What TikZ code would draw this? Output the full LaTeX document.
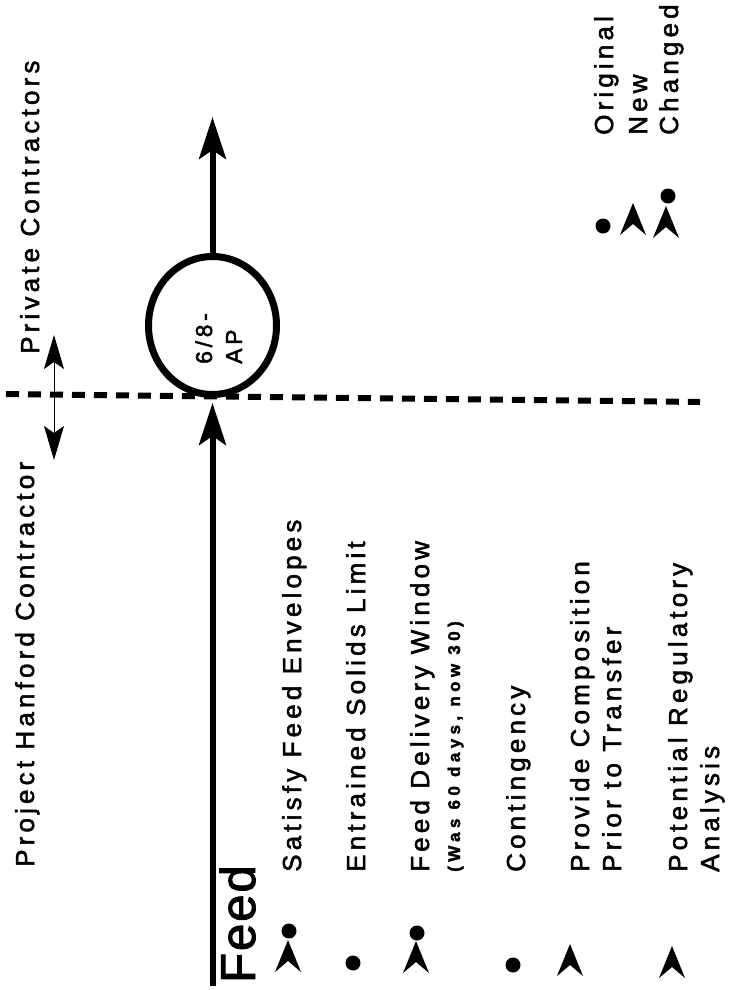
\documentclass[tikz,border=0pt]{standalone}
\usepackage{fontspec}
\setmainfont{Liberation Sans}[LetterSpace=16,FakeBold=2]
\usetikzlibrary{arrows.meta,shapes.geometric}

\begin{document}
\begin{tikzpicture}[x=1pt,y=-1pt,
    item/.style={rotate=90, anchor=base west, inner sep=0pt, font=\fontsize{26}{30}\selectfont},
    note/.style={rotate=90, anchor=base west, inner sep=0pt, font=\fontsize{17}{20}\selectfont\bfseries\addfontfeatures{LetterSpace=26}},
    aplabel/.style={rotate=90, anchor=base west, inner sep=0pt, font=\fontsize{23}{27}\selectfont},
    flow/.style={line width=6pt, -{Stealth[length=42pt,width=27pt,inset=9pt]}},
    split/.style={line width=1pt, {Stealth[length=34pt,width=20pt,inset=7pt]}-{Stealth[length=34pt,width=20pt,inset=7pt]}},
    boundary/.style={line width=6pt, dash pattern=on 13pt off 9pt},
    newmark/.pic={\fill (0,0) -- (13,32) -- (0,21) -- (-13,32) -- cycle;}]
    \useasboundingbox (0,0) rectangle (731,990);

    % sides of the interface
    \node[item] (phc) at (34,867) {Project Hanford Contractor};
    \node[item] (pc) at (39,354) {Private Contractors};
    \coordinate (bleft) at (6,394);
    \coordinate (bright) at (700,402);
    \draw[boundary] (bleft) -- (bright);
    \coordinate (splittop) at (54,335);
    \coordinate (splitbot) at (54,460);
    \draw[split] (splittop) -- (splitbot);

    % interface point
    \node[draw, ellipse, line width=7pt, minimum width=128pt, minimum height=138pt, inner sep=0pt] (ap) at (212.5,325.5) {};
    \node[aplabel] (ap1) at (212,364) {6/8-};
    \node[aplabel] (ap2) at (242,364) {AP};
    \coordinate (feedstart) at (212.5,986);
    \coordinate (apout) at (212.5,117);
    \draw[flow, shorten >=5pt] (feedstart) -- (ap);
    \draw[flow] (ap) -- (apout);

    % requirements
    \node[rotate=90, anchor=base west, inner sep=0pt, font=\fontsize{49}{56}\selectfont\addfontfeatures{LetterSpace=4}] (feed) at (255,983) {Feed};
    \node[item] (env) at (301,872) {Satisfy Feed Envelopes};
    \node[item] (sol) at (365,872) {Entrained Solids Limit};
    \node[item] (win) at (429,872) {Feed Delivery Window};
    \node[note] (was) at (460,872) {(Was 60 days, now 30)};
    \node[item] (con) at (525,872) {Contingency};
    \node[item] (comp1) at (589,872) {Provide Composition};
    \node[item] (comp2) at (621,872) {Prior to Transfer};
    \node[item] (reg1) at (687,872) {Potential Regulatory};
    \node[item] (reg2) at (719,872) {Analysis};

    \fill (289,931) circle[radius=7.5];
    \pic at (288,940) {newmark};
    \fill (353,963) circle[radius=7.5];
    \fill (417,933) circle[radius=7.5];
    \pic at (416,941) {newmark};
    \fill (513,965) circle[radius=7.5];
    \pic at (570,944) {newmark};
    \pic at (672,946) {newmark};

    % legend
    \fill (603,226) circle[radius=7.5];
    \pic at (633,203) {newmark};
    \fill (668,196) circle[radius=7.5];
    \pic at (666,206) {newmark};
    \node[item] (orig) at (613,135) {Original};
    \node[item] (new) at (647,135) {New};
    \node[item] (chg) at (678,135) {Changed};
\end{tikzpicture}
\end{document}
